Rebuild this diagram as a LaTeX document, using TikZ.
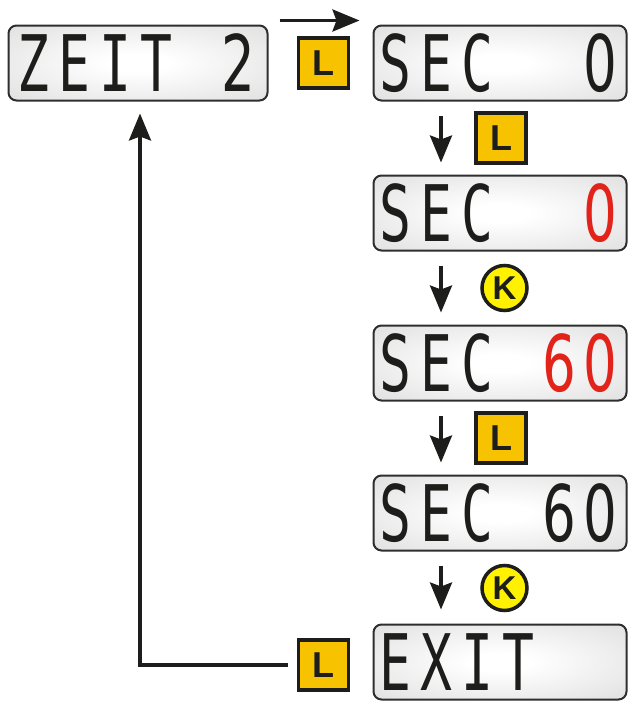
\documentclass[tikz,border=0pt]{standalone}
\usepackage{fontspec}
\usepackage{graphicx}
\setmainfont{Liberation Sans}
\newfontfamily\lcdmono{DejaVu Sans Mono}
\newfontfamily\lcdsans{DejaVu Sans}
\usetikzlibrary{arrows.meta,calc}
\definecolor{ink}{HTML}{1D1D1B}
\definecolor{lcdred}{HTML}{E2231A}
\definecolor{lcdgrey}{HTML}{D2D2D2}
\definecolor{lcdedge}{HTML}{2E2E2E}
\definecolor{lkey}{HTML}{F7C200}
\definecolor{kkey}{HTML}{FFF100}
\pgfdeclareradialshading{lcdshade}{\pgfpoint{0bp}{0bp}}{color(0bp)=(white);color(6bp)=(white);color(50bp)=(lcdgrey);color(75bp)=(lcdgrey)}
\newcommand\lc[1]{\makebox[41pt][c]{\scalebox{0.68}[1]{#1}}}
\tikzset{
  lcdbox/.style={draw=lcdedge, line width=2pt, rounded corners=8pt, shading=lcdshade,
    minimum height=75pt, inner sep=0pt, text=ink,
    font=\lcdmono\fontsize{78}{78}\selectfont},
  rightbox/.style={lcdbox, minimum width=253pt},
  leftbox/.style={lcdbox, minimum width=259pt},
  lkeybox/.style={draw=ink, fill=lkey, line width=3.5pt, minimum size=50pt, inner sep=0pt,
    text=ink, font=\bfseries\fontsize{36}{36}\selectfont},
  kkeybox/.style={circle, draw=ink, fill=kkey, line width=3.5pt, minimum size=45pt, inner sep=0pt,
    text=ink, font=\bfseries\fontsize{33}{33}\selectfont},
  flow/.style={draw=ink, line width=3.5pt, -{Stealth[length=27pt,width=22pt,inset=4pt]}},
}
\begin{document}
\begin{tikzpicture}[x=1pt,y=-1pt]
\useasboundingbox (0,0) rectangle (629,702);
% displays
\node[leftbox] (zeit) at (138,63) {\lc{Z}\lc{E}\lc{I}\lc{T}\lc{}{\lcdsans\lc{2}}\kern5pt};
\node[rightbox] (s0) at (500,63) {\lc{S}\lc{E}\lc{C}\lc{}\lc{}{\lcdsans\lc{0}}\kern5pt};
\node[rightbox] (s1) at (500,213) {\lc{S}\lc{E}\lc{C}\lc{}\lc{}{\lcdsans\color{lcdred}\lc{0}}\kern5pt};
\node[rightbox] (s2) at (500,363) {\lc{S}\lc{E}\lc{C}\lc{}{\lcdsans\color{lcdred}\lc{6}\lc{0}}\kern5pt};
\node[rightbox] (s3) at (500,513) {\lc{S}\lc{E}\lc{C}\lc{}{\lcdsans\lc{6}\lc{0}}\kern5pt};
\node[rightbox] (ex) at (500,662) {\lc{E}\lc{X}\lc{I}\lc{T}\lc{}\lc{}\kern5pt};
% keys
\node[lkeybox] (l1) at (323.5,63) {L};
\node[lkeybox] (l2) at (501,138) {L};
\node[kkeybox] (k1) at (504.5,288) {K};
\node[lkeybox] (l3) at (501,438) {L};
\node[kkeybox] (k2) at (504.5,588) {K};
\node[lkeybox] (l4) at (323.5,665) {L};
% connectors
\coordinate (ax) at (441,0);
\draw[flow] ($(zeit.north east)+(11,-4)$) -- ($(s0.north west)+(-13,-4)$);
\draw[flow, shorten <=14pt, shorten >=12pt] (s0.south -| ax) -- (s1.north -| ax);
\draw[flow, shorten <=14pt, shorten >=12pt] (s1.south -| ax) -- (s2.north -| ax);
\draw[flow, shorten <=14pt, shorten >=12pt] (s2.south -| ax) -- (s3.north -| ax);
\draw[flow, shorten <=14pt, shorten >=14pt] (s3.south -| ax) -- (ex.north -| ax);
\draw[flow] ([xshift=-9pt]l4.west) -| ([xshift=2pt,yshift=-12pt]zeit.south);
\end{tikzpicture}
\end{document}
